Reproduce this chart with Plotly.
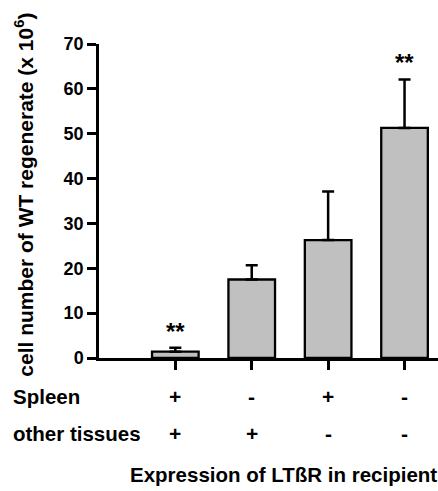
import plotly.graph_objects as go

categories = [0, 1, 2, 3]
means = [1.4, 17.5, 26.3, 51.3]
errors = [0.9, 3.2, 10.8, 10.8]
stars = ["**", "", "", "**"]
spleen = ["+", "-", "+", "-"]
other = ["+", "+", "-", "-"]
yticks = [0, 10, 20, 30, 40, 50, 60, 70]

FONT = "Liberation Sans, Arial, sans-serif"

fig = go.Figure()
fig.add_trace(go.Bar(
    x=categories, y=means, width=0.61,
    marker=dict(color="#c0c0c0", line=dict(color="black", width=2.3)),
    error_y=dict(type="data", symmetric=False, array=errors,
                 arrayminus=[0] * len(errors), color="black",
                 thickness=2.5, width=6),
))

ann = []
for x, m, e, s in zip(categories, means, errors, stars):
    if s:
        ann.append(dict(x=x, y=m + e, xref="x", yref="y", text=s,
                        showarrow=False, yanchor="bottom", yshift=1,
                        font=dict(family=FONT, size=24, color="black", weight="bold")))
for x, a, b in zip(categories, spleen, other):
    ann.append(dict(x=x, y=-0.123, xref="x", yref="paper", text=a,
                    showarrow=False, yanchor="middle",
                    font=dict(family=FONT, size=21, color="black", weight="bold")))
    ann.append(dict(x=x, y=-0.242, xref="x", yref="paper", text=b,
                    showarrow=False, yanchor="middle",
                    font=dict(family=FONT, size=21, color="black", weight="bold")))
ann.append(dict(x=0, xshift=-88, y=-0.123, xref="paper", yref="paper", text="Spleen",
                showarrow=False, xanchor="left", yanchor="middle",
                font=dict(family=FONT, size=20.5, color="black", weight="bold")))
ann.append(dict(x=0, xshift=-88, y=-0.242, xref="paper", yref="paper", text="other tissues",
                showarrow=False, xanchor="left", yanchor="middle",
                font=dict(family=FONT, size=20.5, color="black", weight="bold")))
ann.append(dict(x=1, xshift=1, y=-0.372, xref="paper", yref="paper",
                text="Expression of LTßR in recipient",
                showarrow=False, xanchor="right", yanchor="middle",
                font=dict(family=FONT, size=20.5, color="black", weight="bold")))
ann.append(dict(x=0, xshift=-75, y=0.52, xref="paper", yref="paper",
                text="cell number of WT regenerate (x 10<sup>6</sup>)", textangle=-90,
                showarrow=False, xanchor="center", yanchor="middle",
                font=dict(family=FONT, size=21, color="black", weight="bold")))

fig.update_layout(
    width=438, height=491,
    margin=dict(l=99, r=0, t=44, b=133),
    paper_bgcolor="white", plot_bgcolor="white",
    showlegend=False,
    annotations=ann,
    xaxis=dict(range=[-0.999, 3.438], tickvals=categories, ticktext=[""] * 4,
               ticks="outside", ticklen=9, tickwidth=2.5, tickcolor="black",
               showline=True, linecolor="black", linewidth=2.5,
               showgrid=False, zeroline=False),
    yaxis=dict(range=[0, 70], tickvals=yticks, ticks="outside", ticklen=9,
               tickwidth=2.5, tickcolor="black",
               showline=True, linecolor="black", linewidth=2.5,
               showgrid=False, zeroline=False,
               tickfont=dict(family=FONT, size=18, color="black", weight="bold")),
)

fig.write_html("out.html", config={"displayModeBar": False},
               post_script="document.body.style.margin='0';document.body.style.overflow='hidden';")
